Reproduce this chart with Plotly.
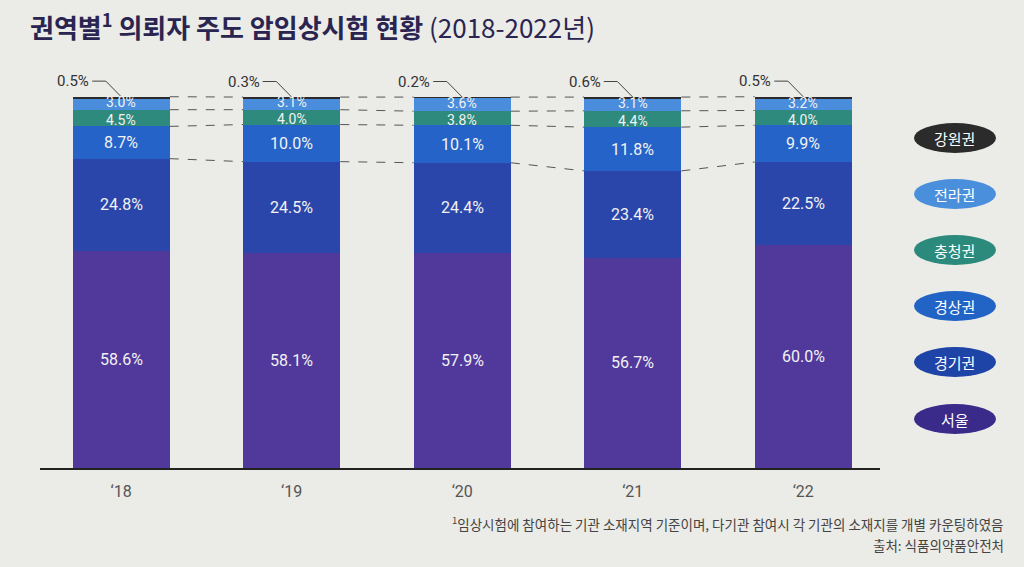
import plotly.graph_objects as go

years = ["‘18", "‘19", "‘20", "‘21", "‘22"]
regions = ["서울", "경기권", "경상권", "충청권", "전라권", "강원권"]
seoul = [58.6, 58.1, 57.9, 56.7, 60.0]
gyeonggi = [24.8, 24.5, 24.4, 23.4, 22.5]
gyeongsang = [8.7, 10.0, 10.1, 11.8, 9.9]
chungcheong = [4.5, 4.0, 3.8, 4.4, 4.0]
jeolla = [3.0, 3.1, 3.6, 3.1, 3.2]
gangwon = [0.5, 0.3, 0.2, 0.6, 0.5]

series = [seoul, gyeonggi, gyeongsang, chungcheong, jeolla, gangwon]
colors = ["#51399c", "#2a46ab", "#2563c8", "#2e8a7c", "#4a8ddc", "#2b2b2b"]
legend_colors = ["#3a2a8a", "#1f44a8", "#2164c6", "#2c8a7c", "#4a8fdc", "#2b2b2b"]

BG = "#ebebe7"
NUM_FONT = "Roboto"
KR_FONT = "Noto Sans CJK KR"
W, H = 1024, 567
L, R, T, B = 40, 144, 60, 99
pw, ph = W - L - R, H - T - B
xs = list(range(len(years)))
bw = 0.57


def px2paper(x, y):
    return (x - L) / pw, (H - B - y) / ph


fig = go.Figure()
for name, vals, col in zip(regions, series, colors):
    fig.add_trace(go.Bar(
        x=xs, y=vals, name=name, width=bw,
        marker=dict(color=col, line=dict(width=0)),
        showlegend=False, hoverinfo="skip",
    ))

# cumulative boundaries
cum = []
run = [0.0] * len(years)
for vals in series:
    run = [a + b for a, b in zip(run, vals)]
    cum.append(run)

# segment labels (all except 강원권)
yshift_by_region = {"서울": 0, "경기권": 0, "경상권": 0, "충청권": -2, "전라권": 2}
for k, (name, vals) in enumerate(zip(regions, series)):
    if name == "강원권":
        continue
    for i, v in enumerate(vals):
        mid = cum[k][i] - v / 2
        small = v < 6
        fig.add_annotation(x=i, y=mid, text=f"{v:.1f}%", showarrow=False,
                           xanchor="center", yanchor="middle",
                           yshift=yshift_by_region[name], borderpad=0,
                           font=dict(size=14 if small else 16, color="#f2f2f2",
                                     family=NUM_FONT))

# dashed connectors between bars
levels = [cum[1], cum[2], cum[3], cum[5]]
for lv in levels:
    lx, ly = [], []
    for i in range(len(years) - 1):
        lx += [i + bw / 2, i + 1 - bw / 2, None]
        ly += [lv[i], lv[i + 1], None]
    fig.add_trace(go.Scatter(x=lx, y=ly, mode="lines",
                             line=dict(color="#555555", width=1, dash="dash"),
                             showlegend=False, hoverinfo="skip"))

# 강원권 leader lines and labels
for i, v in enumerate(gangwon):
    top = cum[5][i]
    fig.add_trace(go.Scatter(
        x=[i - 0.17, i - 0.09, i], y=[top + 4.2, top + 4.2, top],
        mode="lines", line=dict(color="#444444", width=1),
        showlegend=False, hoverinfo="skip"))
    fig.add_annotation(x=i - 0.17, y=top + 4.2, text=f"{v:.1f}%", showarrow=False,
                       xanchor="right", yanchor="middle", xshift=-1,
                       font=dict(size=15, color="#333333", family=NUM_FONT))

# legend pills (right side)
leg_y = [419, 362, 306, 250, 194, 138]
for name, col, py in zip(regions, legend_colors, leg_y):
    x0, y0 = px2paper(914, py - 15)
    x1, y1 = px2paper(996, py + 15)
    fig.add_shape(type="circle", xref="paper", yref="paper",
                  x0=x0, x1=x1, y0=y1, y1=y0, fillcolor=col,
                  line=dict(width=0), layer="above")
    cx, cy = px2paper(955, py)
    fig.add_annotation(xref="paper", yref="paper", x=cx, y=cy, text=name,
                       showarrow=False, xanchor="center", yanchor="middle",
                       font=dict(size=15, color="white", family=KR_FONT))

# title
fig.add_annotation(xref="paper", yref="paper", x=px2paper(28, 0)[0], y=px2paper(0, 25)[1],
                   text="<b>권역별<sup>1</sup> 의뢰자 주도 암임상시험 현황</b> (2018-2022년)",
                   showarrow=False, xanchor="left", yanchor="middle",
                   font=dict(size=26, color="#2a2550", family=KR_FONT))

# footnotes
fig.add_annotation(xref="paper", yref="paper", x=px2paper(1006, 0)[0], y=px2paper(0, 523)[1],
                   text="<sup>1</sup>임상시험에 참여하는 기관 소재지역 기준이며, 다기관 참여시 각 기관의 소재지를 개별 카운팅하였음",
                   showarrow=False, xanchor="right", yanchor="middle",
                   font=dict(size=13.5, color="#444444", family=KR_FONT))
fig.add_annotation(xref="paper", yref="paper", x=px2paper(1006, 0)[0], y=px2paper(0, 545)[1],
                   text="출처: 식품의약품안전처",
                   showarrow=False, xanchor="right", yanchor="middle",
                   font=dict(size=13.5, color="#444444", family=KR_FONT))

fig.update_layout(
    barmode="stack", width=W, height=H,
    margin=dict(l=L, r=R, t=T, b=B),
    paper_bgcolor=BG, plot_bgcolor=BG,
    font=dict(family=KR_FONT),
)
fig.update_xaxes(range=[-0.476, 4.45], tickvals=xs, ticktext=years,
                 showgrid=False, zeroline=False, showline=True,
                 linecolor="#222222", linewidth=2, ticks="",
                 tickfont=dict(size=16, color="#555555", family=NUM_FONT),
                 ticklabelstandoff=8, automargin=False)
fig.update_yaxes(range=[0, 110], visible=False, showgrid=False, zeroline=False,
                 automargin=False)

fig.write_html("out.html", config={"displayModeBar": False},
               post_script="document.body.style.margin='0';document.body.style.background='" + BG + "';")
